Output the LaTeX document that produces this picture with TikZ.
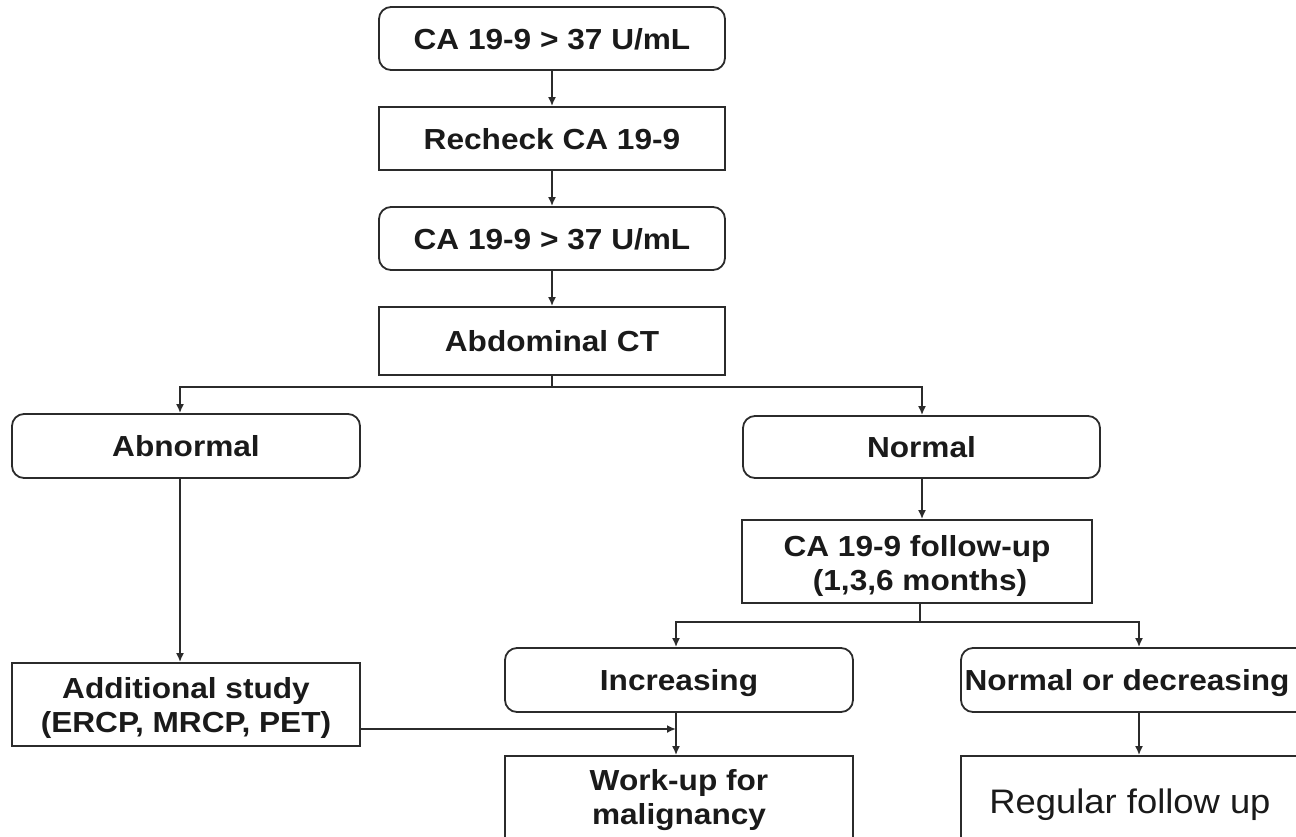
\documentclass[tikz,border=0pt]{standalone}
\usepackage{fontspec}
\setmainfont{Liberation Sans}[FakeStretch=1.09]
\newfontfamily\regfont{Liberation Sans}[FakeStretch=1.07]
\usetikzlibrary{arrows.meta}
\definecolor{linec}{HTML}{2B2B2B}
\definecolor{txtc}{HTML}{1A1A1A}
% two-line text; #1 = height of the strut on the first line (23.8pt is neutral)
\newcommand{\twolines}[3]{\begin{tabular}{@{}c@{}}\rule{0pt}{#1}#2\\#3\end{tabular}}
\begin{document}
\begin{tikzpicture}[x=1pt,y=-1pt,
  box/.style={draw=linec, line width=1.8pt, minimum height=63pt, text=txtc,
    font=\fontsize{29}{34}\selectfont\bfseries, inner sep=0pt},
  rbox/.style={box, rounded corners=12pt},
  onel/.style={text height=21pt, text depth=0pt},
  conn/.style={draw=linec, line width=1.8pt},
  arr/.style={conn, -{Latex[length=9pt,width=8pt]}}]
\useasboundingbox (0,0) rectangle (1296,836);
\clip (0,0) rectangle (1296,836);
% top column
\node[rbox, onel, minimum width=346pt] (b1) at (552,38.5) {CA 19-9 > 37 U/mL};
\node[box, onel, minimum width=346pt] (b2) at (552,138.5) {Recheck CA 19-9};
\node[rbox, onel, minimum width=346pt] (b3) at (552,238.5) {CA 19-9 > 37 U/mL};
\node[box, onel, minimum width=346pt, minimum height=68pt] (b4) at (552,341) {Abdominal CT};
% second level
\node[rbox, onel, minimum width=348pt, minimum height=64pt] (abn) at (186,446) {Abnormal};
\node[rbox, onel, minimum width=357pt, minimum height=62pt] (nor) at (921.5,447) {Normal};
\node[box, minimum width=348pt, minimum height=83pt] (add) at (186,704.5) {\twolines{31.8pt}{Additional study}{(ERCP, MRCP, PET)}};
\node[box, minimum width=350pt, minimum height=83pt] (fu) at (917,561.5) {\twolines{34pt}{CA 19-9 follow-up}{\hspace*{6pt}(1,3,6 months)}};
\node[rbox, onel, minimum width=348pt, minimum height=64pt] (inc) at (679,680) {Increasing};
\node[rbox, onel, minimum width=360pt, minimum height=64pt] (nd) at (1141,680) {\hspace*{-28pt}Normal or decreasing};
\node[box, minimum width=348pt, minimum height=90pt] (wu) at (679,801) {\twolines{22pt}{Work-up for}{malignancy}};
\node[box, minimum width=360pt, minimum height=90pt, text height=24.5pt, text depth=0pt,
      font=\fontsize{34}{40}\selectfont\regfont] (reg) at (1141,801) {\hspace*{-22pt}Regular follow up};
% helper coordinates
\coordinate (j1) at (552,387);
\coordinate (xa) at (180,0);
\coordinate (xn) at (922,0);
\coordinate (j2) at (920,622);
\coordinate (xi) at (676,0);
\coordinate (xd) at (1139,0);
\coordinate (hy) at (0,729);
% connectors
\draw[arr] (b1) -- (b2);
\draw[arr] (b2) -- (b3);
\draw[arr] (b3) -- (b4);
\draw[conn] (b4.south) -- (j1);
\draw[arr] (j1) -| (abn.north -| xa);
\draw[arr] (j1) -| (nor.north -| xn);
\draw[arr] (abn.south -| xa) -- (add.north -| xa);
\draw[arr] (nor.south -| xn) -- (fu.north -| xn);
\draw[conn] (fu.south -| j2) -- (j2);
\draw[arr] (j2) -| (inc.north -| xi);
\draw[arr] (j2) -| (nd.north -| xd);
\draw[arr] (inc.south -| xi) -- (wu.north -| xi);
\draw[arr] (add.east |- hy) -- (xi |- hy);
\draw[arr] (nd.south -| xd) -- (reg.north -| xd);
\end{tikzpicture}
\end{document}
